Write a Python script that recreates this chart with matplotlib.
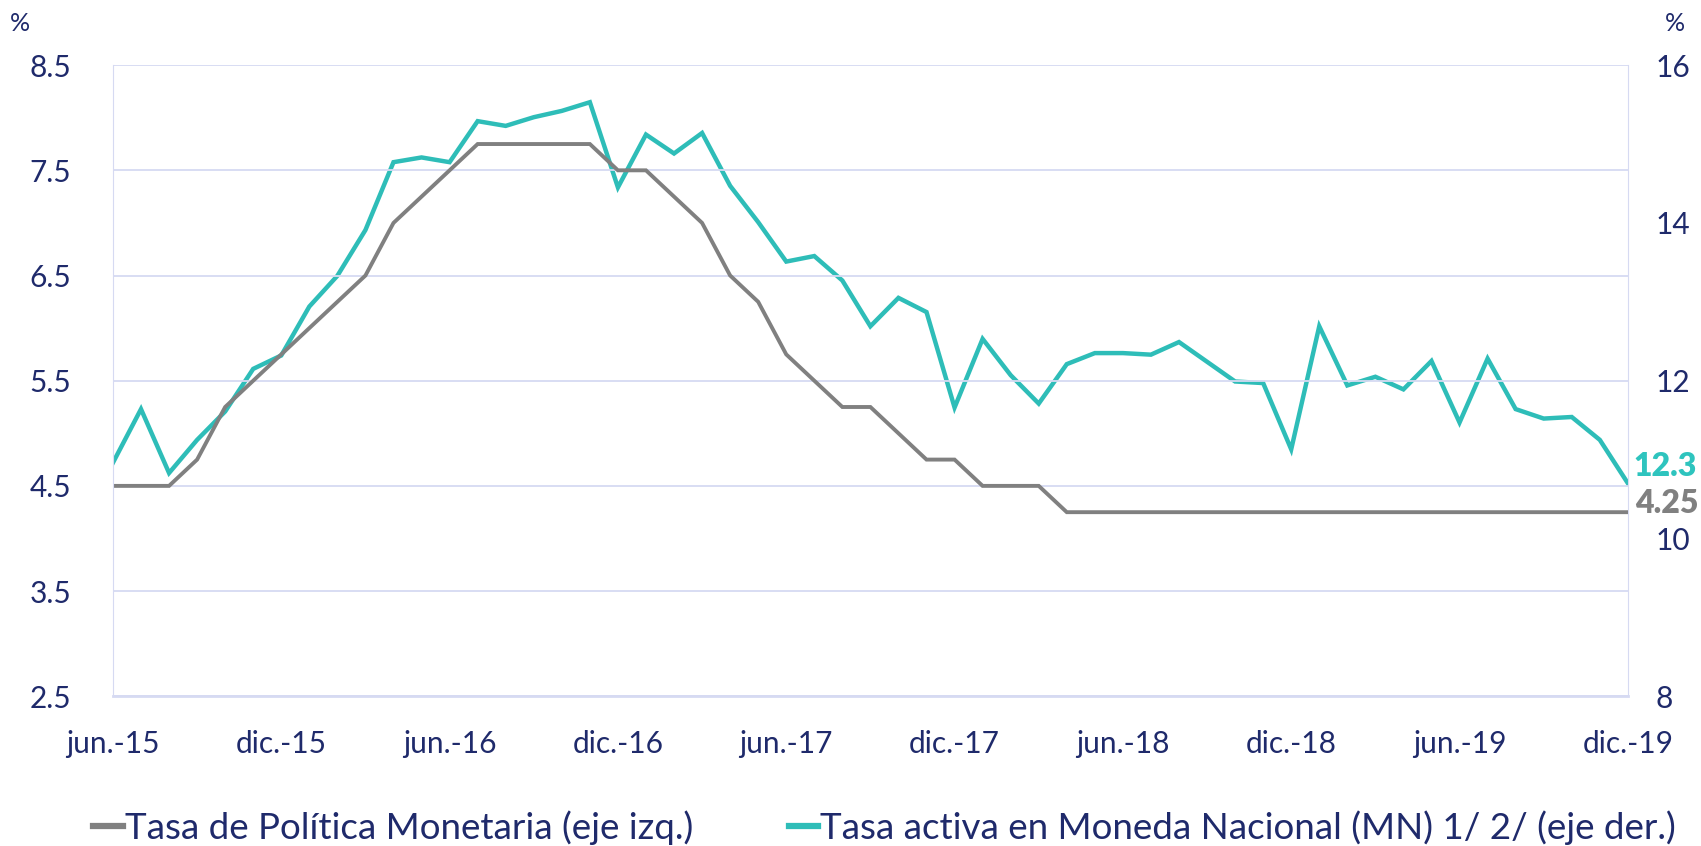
import matplotlib.pyplot as plt
import numpy as np

plt.rcParams["font.family"] = ["Lato", "DejaVu Sans"]

NAVY = "#1F2A6B"
GRID = "#D6DAF2"
TEAL = "#2EBDB8"
GRAY = "#808080"

# monthly, jun-15 .. dic-19
tick_labels = ["jun.-15", "dic.-15", "jun.-16", "dic.-16", "jun.-17",
               "dic.-17", "jun.-18", "dic.-18", "jun.-19", "dic.-19"]

tpm = [4.50, 4.50, 4.50, 4.75, 5.25, 5.50, 5.75, 6.00, 6.25, 6.50, 7.00,
       7.25, 7.50, 7.75, 7.75, 7.75, 7.75, 7.75, 7.50, 7.50, 7.25, 7.00,
       6.50, 6.25, 5.75, 5.50, 5.25, 5.25, 5.00, 4.75, 4.75, 4.50, 4.50,
       4.50, 4.25, 4.25, 4.25, 4.25, 4.25, 4.25, 4.25, 4.25, 4.25, 4.25,
       4.25, 4.25, 4.25, 4.25, 4.25, 4.25, 4.25, 4.25, 4.25, 4.25, 4.25]

activa = [10.96, 11.64, 10.83, 11.25, 11.61, 12.15, 12.32, 12.94, 13.33,
          13.91, 14.77, 14.83, 14.77, 15.29, 15.23, 15.34, 15.42, 15.53,
          14.45, 15.12, 14.88, 15.14, 14.47, 14.01, 13.51, 13.58, 13.27,
          12.69, 13.05, 12.87, 11.66, 12.53, 12.07, 11.71, 12.21, 12.35,
          12.35, 12.33, 12.49, 12.24, 11.99, 11.97, 11.13, 12.69, 11.94,
          12.05, 11.89, 12.25, 11.47, 12.28, 11.64, 11.52, 11.54, 11.25,
          10.70]

x = np.arange(len(tpm))

fig = plt.figure(figsize=(17.01, 8.46), dpi=100)
ax = fig.add_axes([0.0664, 0.177, 0.8906, 0.746])
ax2 = ax.twinx()

ax.set_ylim(2.5, 8.5)
ax.set_yticks(np.arange(2.5, 8.6, 1.0))
ax.set_yticklabels([f"{v:.1f}" for v in np.arange(2.5, 8.6, 1.0)])
ax2.set_ylim(8, 16)
ax2.set_yticks([8, 10, 12, 14, 16])
ax.set_xlim(0, len(tpm) - 1)
ax.set_xticks(x[::6])
ax.set_xticklabels(tick_labels)

ax.yaxis.grid(True, color=GRID, lw=1.3)
ax.set_axisbelow(True)
for a in (ax, ax2):
    for s in a.spines.values():
        s.set_visible(False)
    a.tick_params(length=0, labelsize=21.5, labelcolor=NAVY)
ax.spines["left"].set_visible(True)
ax.spines["left"].set_color(GRID)
ax.spines["bottom"].set_visible(True)
ax.spines["bottom"].set_color(GRID)
ax.spines["bottom"].set_linewidth(2)
ax2.spines["right"].set_visible(True)
ax2.spines["right"].set_color(GRID)
ax.tick_params(axis="y", pad=30)
ax.tick_params(axis="x", pad=24)
ax2.tick_params(axis="y", pad=20)

l1, = ax.plot(x, tpm, color=GRAY, lw=2.8, solid_joinstyle="miter",
              label="Tasa de Política Monetaria (eje izq.)")
l2, = ax2.plot(x, activa, color=TEAL, lw=3.2, solid_joinstyle="miter",
               label="Tasa activa en Moneda Nacional (MN) 1/ 2/ (eje der.)")
ax.set_zorder(ax2.get_zorder() + 1)
ax.patch.set_visible(False)

ax.text(len(tpm) - 0.75, 4.33, "4.25", color=GRAY, fontsize=23,
        fontweight="heavy", va="center", ha="left")
ax.text(len(tpm) - 0.8, 4.68, "12.3", color="#2EC4BE", fontsize=23,
        fontweight="heavy", va="center", ha="left")

fig.text(0.006, 0.972, "%", color=NAVY, fontsize=18, va="center")
fig.text(0.979, 0.972, "%", color=NAVY, fontsize=18, va="center")

leg = fig.legend(handles=[l1, l2], loc="center", bbox_to_anchor=(0.52, 0.022),
                 ncol=2, frameon=False, fontsize=26.5, labelcolor=NAVY,
                 handlelength=0.8, handletextpad=0.05, columnspacing=2.6)
for h in leg.legend_handles:
    h.set_linewidth(4.5)

fig.savefig("out.png", dpi=100)
